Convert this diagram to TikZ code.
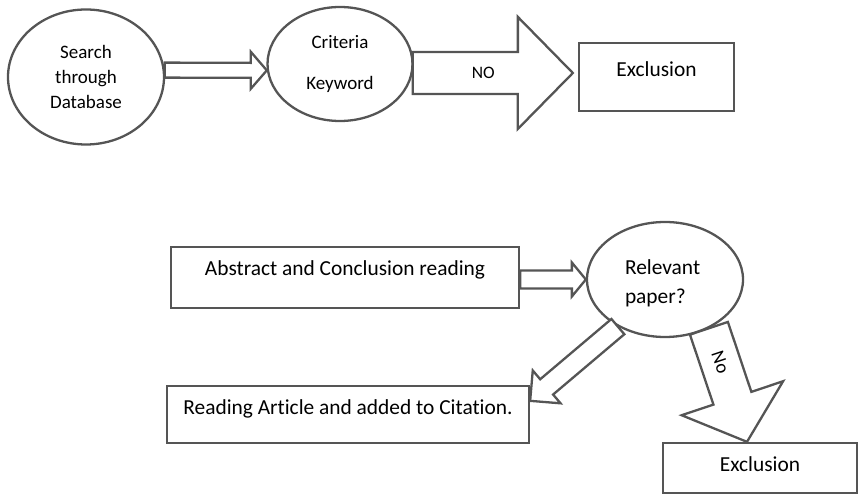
\documentclass[tikz,border=0pt]{standalone}
\usepackage{fontspec}
\setmainfont[Ligatures=NoCommon]{Carlito}
\usetikzlibrary{calc}
\usetikzlibrary{shapes.geometric}
\definecolor{linegray}{HTML}{555555}
\tikzset{oval/.style = {draw=linegray, line width=2.3pt, ellipse, inner sep=0pt,
                        align=center, font=\fontsize{19}{25}\selectfont}}
\tikzset{box/.style = {draw=linegray, line width=2.3pt, rectangle, inner sep=0pt,
                       text height=15pt, align=center, font=\fontsize{21.4}{25}\selectfont}}
\tikzset{fat arrow/.style = {draw=linegray, line width=2.3pt, fill=white, line join=miter}}
\tikzset{arrow label/.style = {inner sep=0pt, font=\fontsize{17.5}{20}\selectfont}}
% block arrow: from, to, shaft half width, head half width, head length, label
\newcommand{\fatarrow}[6]{%
  \coordinate (fa-s) at (#1);
  \coordinate (fa-t) at (#2);
  \coordinate (fa-h) at ($(fa-t)!#5pt!(fa-s)$);
  \draw[fat arrow] ($(fa-s)!#3pt!90:(fa-t)$) -- ($(fa-h)!#3pt!90:(fa-t)$)
    -- ($(fa-h)!#4pt!90:(fa-t)$) -- (fa-t) -- ($(fa-h)!#4pt!-90:(fa-t)$)
    -- ($(fa-h)!#3pt!-90:(fa-t)$) -- ($(fa-s)!#3pt!-90:(fa-t)$) -- cycle;
  \path (fa-s) -- (fa-t) #6;
}

\begin{document}
\begin{tikzpicture}[x=1pt, y=1pt]
			\useasboundingbox (0,0) rectangle (859,495);
			% top row
			\node[oval, minimum width=156pt, minimum height=135pt] (search) at (86, 418) {Search\\through\\Database};
			\node[oval, minimum width=145pt, minimum height=114pt] (criteria) at (340, 431) {Criteria\\[16pt]Keyword};
			\node[box, minimum width=155pt, minimum height=68pt, text depth=16pt] (excl1) at (656.5, 418) {Exclusion};
			% bottom part
			\node[box, minimum width=348pt, minimum height=61pt, text depth=19pt] (abstract) at (345, 217.5) {Abstract and Conclusion reading};
			\node[oval, align=left, text width=80pt, minimum width=156pt, minimum height=115pt, text depth=25pt,
			      font=\fontsize{21.4}{29}\selectfont] (relevant) at (665, 215.5) {Relevant\\paper?};
			\node[box, minimum width=362pt, minimum height=57pt, text depth=15pt] (reading) at (348, 80.5) {Reading Article and added to Citation.};
			\node[box, minimum width=194pt, minimum height=50pt, text depth=8pt] (excl2) at (760, 27) {Exclusion};
			% arrows
			\fatarrow{search.5}{criteria.185}{7.5}{18.5}{16}{}
			\fatarrow{criteria.-7}{[shift={(-5pt,4pt)}]excl1.west}{21}{56}{55}{node[arrow label, pos=.44] {NO}}
			\fatarrow{abstract.east|-relevant.west}{relevant.west}{9}{17}{14}{}
			\fatarrow{relevant.225}{[yshift=-16pt]reading.north east}{10}{21.5}{21.6}{}
			\fatarrow{relevant.-48}{[xshift=-13pt]excl2.north}{20}{53.5}{46}{node[arrow label, sloped, pos=.3, font=\fontsize{19}{20}\selectfont] {No}}
		\end{tikzpicture}
\end{document}
